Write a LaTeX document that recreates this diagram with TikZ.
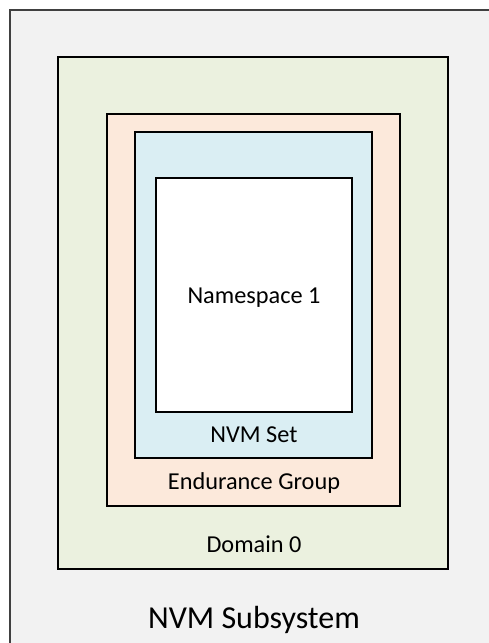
\documentclass[tikz,border=0pt]{standalone}
\usepackage{fontspec}
\setmainfont{Carlito}
\usetikzlibrary{positioning}

\definecolor{subsysfill}{HTML}{F2F2F2}
\definecolor{domainfill}{HTML}{EBF1DF}
\definecolor{endgrpfill}{HTML}{FCE9DB}
\definecolor{setfill}{HTML}{DAEEF3}

\tikzset{
	layer/.style={draw,line width=1.5pt,inner sep=0pt},
	tag/.style={anchor=base,inner sep=0pt,font=\fontsize{24.3}{28}\selectfont},
}

\begin{document}
\begin{tikzpicture}[x=1pt,y=-1pt]
	\useasboundingbox (0,0) rectangle (489,643);
	\clip (0,0) rectangle (489,643);
	% nested boxes
	\node[layer,draw=black!75,line width=1.2pt,fill=subsysfill,minimum width=490pt,minimum height=645pt](subsys) at (255,332.5){};
	\node[layer,fill=domainfill,minimum width=390pt,minimum height=512pt](domain) at (253,313){};
	\node[layer,fill=endgrpfill,minimum width=293pt,minimum height=392pt](endgrp) at (253.5,310){};
	\node[layer,fill=setfill,minimum width=237pt,minimum height=326pt](nvmset) at (253.5,295){};
	\node[layer,fill=white,minimum width=196pt,minimum height=234pt](ns) at (254,295){};
	% labels
	\node[tag](nslabel) at (254,303){Namespace 1};
	\node[tag](setlabel) at (254,442){NVM Set};
	\node[tag](endgrplabel) at (254,489){Endurance Group};
	\node[tag](domainlabel) at (254,552){Domain 0};
	\node[tag,font=\fontsize{32}{36}\selectfont](subsyslabel) at (254,628){NVM Subsystem};
\end{tikzpicture}
\end{document}
